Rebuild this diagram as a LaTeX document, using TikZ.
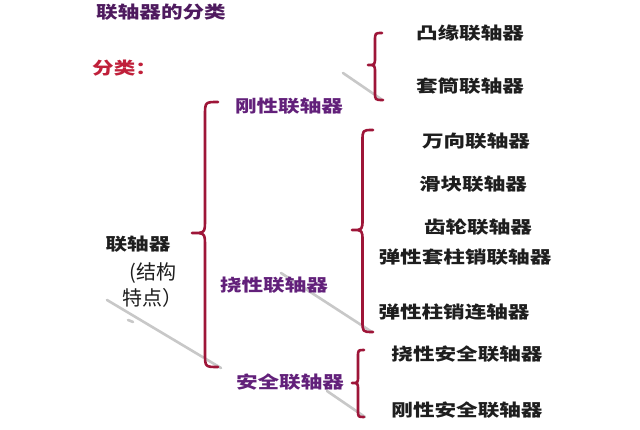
\documentclass[tikz,border=0pt]{standalone}
\usepackage{fontspec}
\newfontfamily\cjk{Noto Sans CJK SC}
\newcommand\stretchtxt[1]{\scalebox{1.27}[1]{#1}}
\definecolor{bracered}{HTML}{9E1538}
\definecolor{titlepurple}{HTML}{4E1A5E}
\definecolor{labelpurple}{HTML}{62207A}
\definecolor{catred}{HTML}{C0203A}
\definecolor{txtblack}{HTML}{1E1E1E}
\definecolor{shadowgray}{HTML}{C8C8C8}
\tikzset{
  lbl/.style={font=\cjk\bfseries\fontsize{17}{17}\selectfont, inner sep=0pt, text=txtblack},
  plbl/.style={lbl, text=labelpurple},
  brc/.style={draw=bracered, line width=2.6pt, line cap=round, line join=round},
  shd/.style={draw=shadowgray, line width=2.6pt, line cap=round},
}
% left curly brace through top, tip, bottom
\newcommand\mybrace[4]{% top, tip, bottom, half-curl
  \draw[brc] let \p1=(#1), \p2=(#2), \p3=(#3), \n1={(\x1+\x2)/2} in
    (\p1) .. controls (\n1,\y1) .. (\n1,\y1-#4)
    -- (\n1,\y2+#4) .. controls (\n1,\y2) .. (\p2)
    .. controls (\n1,\y2) .. (\n1,\y2-#4)
    -- (\n1,\y3+#4) .. controls (\n1,\y3) .. (\p3);
}
\usetikzlibrary{calc}
\begin{document}
\begin{tikzpicture}[x=1pt,y=-1pt]
\useasboundingbox (0,0) rectangle (640,430);
\fill[white] (0,0) rectangle (640,430);

% shadows
\draw[shd] (343,73) -- (381,99);
\draw[shd] (107,300) -- (221,368);
\draw[shd] (128,320) -- (133,322);
\draw[shd] (281,273) -- (372,332);
\draw[shd] (327,391) -- (365,417);

% titles
\node[lbl, text=titlepurple] (title) at (161,12) {\stretchtxt{联轴器的分类}};
\node[lbl, text=catred, anchor=west] (cat) at (92,68) {\stretchtxt{分类：}};

% root
\node[lbl] (root) at (138,244) {\stretchtxt{联轴器}};
\node[inner sep=0pt, font=\cjk\fontsize{20}{20}\selectfont, text=txtblack] (paren1) at (153,273) {(结构};
\node[inner sep=0pt, font=\cjk\fontsize{20}{20}\selectfont, text=txtblack] (paren2) at (152,298) {特点）};

% level 1
\node[plbl] (rigid) at (289,106) {\stretchtxt{刚性联轴器}};
\node[plbl] (flex) at (274,285) {\stretchtxt{挠性联轴器}};
\node[plbl] (safe) at (290,382) {\stretchtxt{安全联轴器}};

% level 2
\node[lbl] (r1) at (470,33) {\stretchtxt{凸缘联轴器}};
\node[lbl] (r2) at (470,86) {\stretchtxt{套筒联轴器}};
\node[lbl] (f1) at (476,141) {\stretchtxt{万向联轴器}};
\node[lbl] (f2) at (473,184) {\stretchtxt{滑块联轴器}};
\node[lbl] (f3) at (478,227) {\stretchtxt{齿轮联轴器}};
\node[lbl] (f4) at (465,257) {\stretchtxt{弹性套柱销联轴器}};
\node[lbl] (f5) at (454,312) {\stretchtxt{弹性柱销连轴器}};
\node[lbl] (s1) at (467,354) {\stretchtxt{挠性安全联轴器}};
\node[lbl] (s2) at (467,410) {\stretchtxt{刚性安全联轴器}};

% brace coordinates
\coordinate (bigT) at (218,102);
\coordinate (bigM) at (192,233);
\coordinate (bigB) at (218,367);
\coordinate (rT) at (382,33);
\coordinate (rM) at (368,65);
\coordinate (rB) at (383,100);
\coordinate (fT) at (373,130);
\coordinate (fM) at (352,230);
\coordinate (fB) at (373,332);
\coordinate (sT) at (364,350);
\coordinate (sM) at (352,383);
\coordinate (sB) at (364,417);

\mybrace{bigT}{bigM}{bigB}{14}
\mybrace{rT}{rM}{rB}{8}
\mybrace{fT}{fM}{fB}{11}
\mybrace{sT}{sM}{sB}{7}
\end{tikzpicture}
\end{document}
